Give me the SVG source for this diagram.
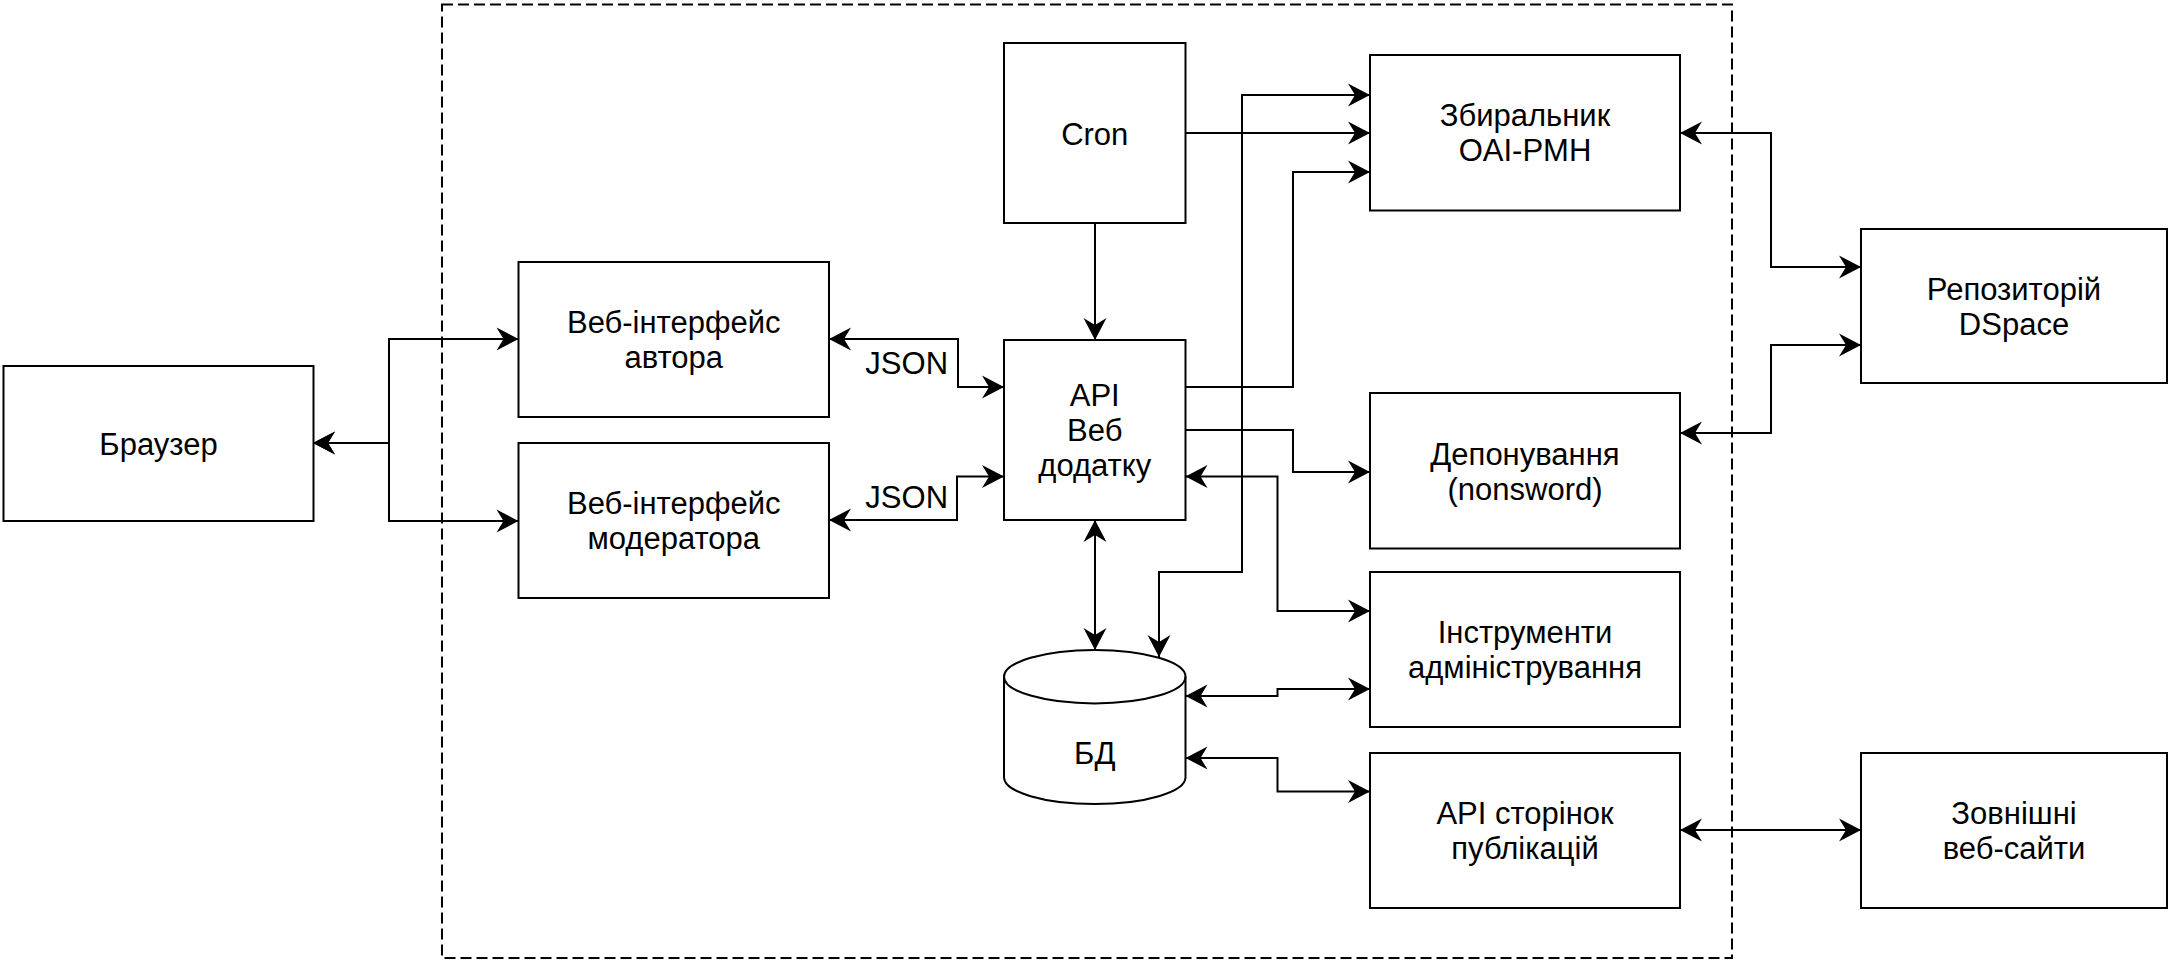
<svg xmlns="http://www.w3.org/2000/svg" width="2169" height="961" viewBox="0 0 2169 961">
<style>
.box{fill:#fff;stroke:#000;stroke-width:2}
.cont{fill:none;stroke:#000;stroke-width:2;stroke-dasharray:11 5}
.ln{fill:none;stroke:#000;stroke-width:2}
.both{marker-start:url(#arr);marker-end:url(#arr)}
.end{marker-end:url(#arr)}
text{font-family:"Liberation Sans",Arial,Helvetica,sans-serif;font-size:31px;fill:#000;text-anchor:middle}
</style>
<defs>
<marker id="arr" markerUnits="userSpaceOnUse" markerWidth="26" markerHeight="26" viewBox="-24 -13 26 26" refX="0" refY="0" orient="auto-start-reverse">
<path d="M0,0 L-22,-11.5 L-15,0 L-22,11.5 Z" fill="#000"/>
</marker>
</defs>
<rect class="cont" x="442" y="4.5" width="1290" height="953.5"/>
<g id="connectors">
<path class="ln both" d="M313,443 H389 V339 H518.5"/>
<path class="ln both" d="M313,443 H389 V521 H518.5"/>
<path class="ln both" d="M829,339 H958 V387 H1004"/>
<path class="ln both" d="M829,520 H957 V476.5 H1004"/>
<path class="ln end" d="M1095,223 V340"/>
<path class="ln end" d="M1185.5,133 H1370"/>
<path class="ln both" d="M1159,657 V572 H1242 V95 H1370"/>
<path class="ln end" d="M1185.5,387 H1293 V172 H1370"/>
<path class="ln end" d="M1185.5,430 H1293 V472 H1370"/>
<path class="ln both" d="M1185.5,476.5 H1277.5 V611 H1370"/>
<path class="ln both" d="M1095,520 V650"/>
<path class="ln both" d="M1185.5,696 H1277.5 V689 H1370"/>
<path class="ln both" d="M1185.5,758 H1277.5 V791.5 H1370"/>
<path class="ln both" d="M1680,133 H1771 V267 H1861"/>
<path class="ln both" d="M1680,433 H1771 V345 H1861"/>
<path class="ln both" d="M1680,830 H1861"/>
<text x="906.7" y="374">JSON</text>
<text x="906.7" y="508">JSON</text>
</g>
<g id="browser">
<rect class="box" x="3.5" y="366" width="310" height="155"/>
<text x="158.5" y="454.5">Браузер</text>
</g>
<g id="author-ui">
<rect class="box" x="518.5" y="262" width="310.5" height="155"/>
<text x="673.75" y="333">Веб-інтерфейс</text>
<text x="673.75" y="368">автора</text>
</g>
<g id="moderator-ui">
<rect class="box" x="518.5" y="443" width="310.5" height="155"/>
<text x="673.75" y="514">Веб-інтерфейс</text>
<text x="673.75" y="549">модератора</text>
</g>
<g id="cron">
<rect class="box" x="1004" y="43" width="181.5" height="180"/>
<text x="1094.75" y="144.5">Cron</text>
</g>
<g id="api">
<rect class="box" x="1004" y="340" width="181.5" height="180"/>
<text x="1094.75" y="406">API</text>
<text x="1094.75" y="441">Веб</text>
<text x="1094.75" y="476">додатку</text>
</g>
<g id="db">
<path class="box" d="M1004,676.7 A90.75,26.7 0 0 1 1185.5,676.7 V777.3 A90.75,26.7 0 0 1 1004,777.3 Z"/>
<path class="ln" d="M1004,676.7 A90.75,26.7 0 0 0 1185.5,676.7"/>
<text x="1094.75" y="763.5">БД</text>
</g>
<g id="harvester">
<rect class="box" x="1370" y="55" width="310" height="155.5"/>
<text x="1525" y="126.25">Збиральник</text>
<text x="1525" y="161.25">OAI-PMH</text>
</g>
<g id="deposit">
<rect class="box" x="1370" y="393" width="310" height="155.5"/>
<text x="1525" y="464.5">Депонування</text>
<text x="1525" y="499.5">(nonsword)</text>
</g>
<g id="admin-tools">
<rect class="box" x="1370" y="572" width="310" height="155"/>
<text x="1525" y="643">Інструменти</text>
<text x="1525" y="678">адміністрування</text>
</g>
<g id="pages-api">
<rect class="box" x="1370" y="753" width="310" height="155"/>
<text x="1525" y="824">API сторінок</text>
<text x="1525" y="859">публікацій</text>
</g>
<g id="dspace">
<rect class="box" x="1861" y="229" width="306" height="154"/>
<text x="2014" y="299.5">Репозиторій</text>
<text x="2014" y="334.5">DSpace</text>
</g>
<g id="external">
<rect class="box" x="1861" y="753" width="306" height="155"/>
<text x="2014" y="824">Зовнішні</text>
<text x="2014" y="859">веб-сайти</text>
</g>
</svg>
